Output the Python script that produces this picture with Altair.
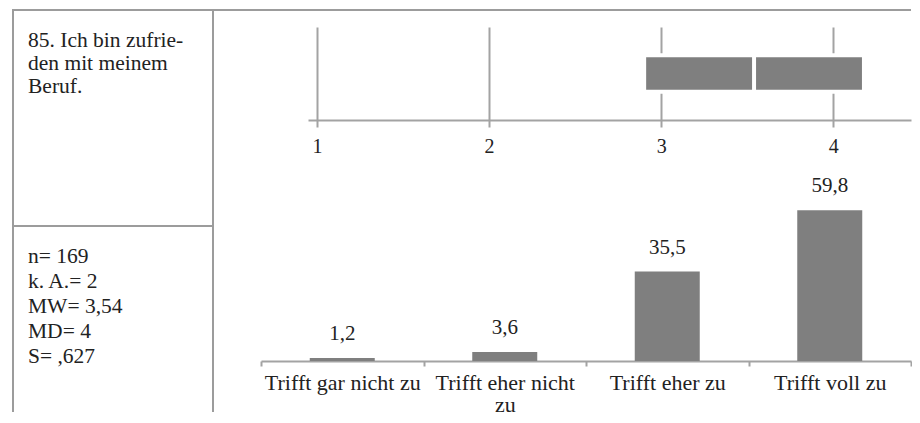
import altair as alt
import pandas as pd

# ---- data ----
question_lines = ["85. Ich bin zufrie-", "den mit meinem", "Beruf."]
stats_lines = ["n= 169", "k. A.= 2", "MW= 3,54", "MD= 4", "S= ,627"]
item_id = ["85"]
mean_value = [3.54]
sd_value = [0.627]
scale_ticks = [1, 2, 3, 4]
scale_extent = [0.948, 4.452]
categories = ["Trifft gar nicht zu", "Trifft eher nicht zu", "Trifft eher zu", "Trifft voll zu"]
percents = [1.2, 3.6, 35.5, 59.8]
pct_max = 95.6

# ---- style ----
FONT = "'Liberation Serif', 'Times New Roman', Times, 'DejaVu Serif', serif"
TEXT = "#222222"
LINE = "#a3a3a3"
BORDER = "#9c9c9c"
BAR = "#7f7f7f"
RIGHT_W = 697

# ---- left column: text cells ----
cell_q = (
    alt.Chart(alt.Data(values=[{"t": question_lines}]))
    .mark_text(align="left", baseline="top", x=15, y=20, fontSize=21.5, lineHeight=23,
               font=FONT, color=TEXT)
    .encode(text="t:N")
    .properties(width=200, height=216,
                view=alt.ViewBackground(stroke=BORDER, strokeWidth=2))
)

stats_src = alt.Chart(alt.Data(values=[{"t": stats_lines}]))
stats_text = stats_src.mark_text(align="left", baseline="top", x=15, y=20, fontSize=21.5,
                                 lineHeight=25, font=FONT, color=TEXT).encode(text="t:N")
rule_l = stats_src.mark_rule(color=BORDER, strokeWidth=2).encode(
    x=alt.value(0), y=alt.value(0), y2=alt.value("height"))
rule_r = stats_src.mark_rule(color=BORDER, strokeWidth=2).encode(
    x=alt.value("width"), y=alt.value(0), y2=alt.value("height"))
cell_s = alt.layer(stats_text, rule_l, rule_r).properties(width=200, height=186)

# ---- right column ----
top_border = (
    alt.Chart(alt.Data(values=[{"a": 0}]))
    .mark_rule(color=BORDER, strokeWidth=2)
    .encode(x=alt.value(0), x2=alt.value("width"), y=alt.value(0))
    .properties(width=RIGHT_W, height=17)
)

box_src = alt.Chart(
    pd.DataFrame({"item": item_id, "mean": mean_value, "sd": sd_value})
).transform_calculate(lo="datum.mean - datum.sd", hi="datum.mean + datum.sd")

x_axis = alt.Axis(values=scale_ticks, format="d", title=None, grid=True,
                  gridColor=LINE, gridWidth=2, domainColor=LINE, domainWidth=2,
                  tickColor=LINE, tickWidth=2, tickSize=7, labelPadding=9,
                  labelFont=FONT, labelFontSize=20, labelColor=TEXT)
x_scale = alt.Scale(domain=scale_extent, range=[94, RIGHT_W], nice=False, zero=False)
y_band = alt.Y("item:N", axis=None, scale=alt.Scale(paddingInner=0.48, paddingOuter=0.48))

halo = box_src.mark_bar(fill="white", stroke="white", strokeWidth=8).encode(
    x=alt.X("lo:Q", scale=x_scale, axis=x_axis), x2="hi:Q", y=y_band)
box = box_src.mark_bar(color=BAR).encode(
    x=alt.X("lo:Q", scale=x_scale, axis=x_axis), x2="hi:Q", y=y_band)
mean_tick = box_src.mark_tick(color="white", thickness=4, size=36, opacity=1).encode(
    x=alt.X("mean:Q", scale=x_scale, axis=x_axis), y=y_band)
box_chart = alt.layer(halo, box, mean_tick).properties(width=RIGHT_W, height=93)

bar_src = alt.Chart(pd.DataFrame({"cat": categories, "pct": percents}))
wrap_expr = ("length(datum.label) > 19 ? "
             "[slice(datum.label, 0, lastindexof(datum.label, ' ')), "
             "slice(datum.label, lastindexof(datum.label, ' ') + 1)] : datum.label")
bx = alt.X("cat:N", sort=categories,
           scale=alt.Scale(range=[47, RIGHT_W], paddingInner=0, paddingOuter=0),
           axis=alt.Axis(title=None, labelAngle=0, tickBand="extent",
                         domainColor=LINE, domainWidth=2, tickColor=LINE, tickWidth=2,
                         tickSize=5, labelPadding=6, labelFont=FONT, labelFontSize=22,
                         labelColor=TEXT, labelLineHeight=22, labelExpr=wrap_expr))
by = alt.Y("pct:Q", scale=alt.Scale(domain=[0, pct_max], nice=False), axis=None)
bars = bar_src.mark_bar(color=BAR, width=alt.RelativeBandSize(0.4)).encode(x=bx, y=by)
vals = (
    bar_src.transform_calculate(lbl="replace(format(datum.pct, '.1f'), '.', ',')")
    .mark_text(baseline="middle", dy=-24, fontSize=21, font=FONT, color=TEXT)
    .encode(x=bx, y=by, text="lbl:N")
)
bar_chart = alt.layer(bars, vals).properties(width=RIGHT_W, height=241)

left_col = alt.vconcat(cell_q, cell_s, spacing=0, bounds="flush")
right_col = alt.vconcat(top_border, box_chart, bar_chart, spacing=0, bounds="flush")

chart = (
    alt.hconcat(left_col, right_col, spacing=-2)
    .properties(padding={"left": 4, "top": 1, "right": 0, "bottom": 0})
    .configure(font=FONT)
    .configure_view(strokeWidth=0)
)

chart.save("out.html", embed_options={"renderer": "svg", "actions": False})
